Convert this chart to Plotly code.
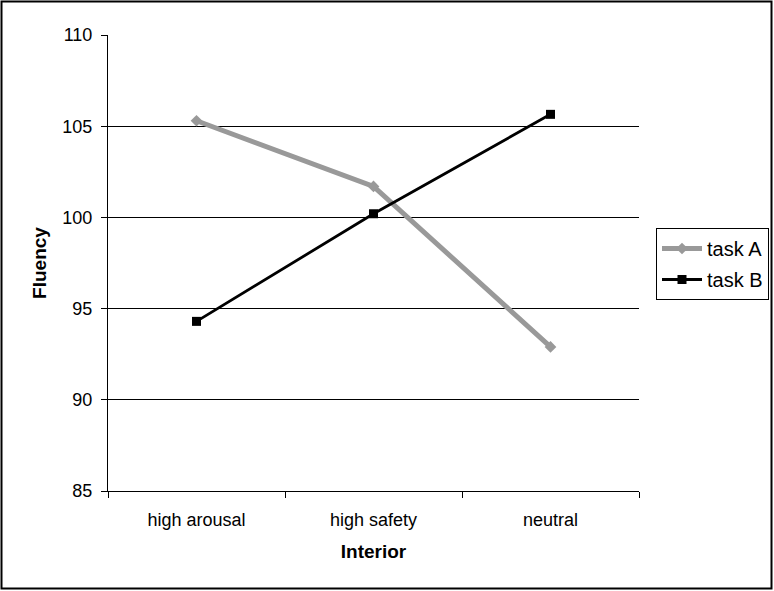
import plotly.graph_objects as go

categories = ["high arousal", "high safety", "neutral"]
task_a = [105.3, 101.7, 92.9]
task_b = [94.3, 100.2, 105.65]
y_ticks = [85, 90, 95, 100, 105, 110]

L, R, T, B = 108, 135, 35, 100
W, H = 774, 591
pw, ph = W - L - R, H - T - B

fig = go.Figure()
fig.add_trace(go.Scatter(
    x=categories, y=task_a, name="task A", mode="lines+markers",
    legendgroup="a",
    line=dict(color="#999999", width=5),
    marker=dict(symbol="diamond", size=9, color="#999999"),
))
fig.add_trace(go.Scatter(
    x=categories, y=task_b, name="task B", mode="lines+markers",
    legendgroup="b",
    line=dict(color="#000000", width=2.8),
    marker=dict(symbol="square", size=9, color="#000000"),
))

def px_x(p):
    return (p - L) / pw

def px_y(p):
    return (H - B - p) / ph

fig.update_layout(
    width=W, height=H,
    margin=dict(l=L, r=R, t=T, b=B, pad=0, autoexpand=False),
    paper_bgcolor="white", plot_bgcolor="white",
    font=dict(family="Liberation Sans, Arial, sans-serif", size=18, color="black"),
    xaxis=dict(
        type="category", tickson="boundaries", ticks="outside", ticklen=6,
        tickcolor="black", showline=True, linecolor="black", linewidth=1,
        showgrid=False, range=[-0.5, 2.5], ticklabelstandoff=12,
        title=dict(text="<b>Interior</b>", font=dict(size=19), standoff=16),
        tickfont=dict(size=18), automargin=False,
    ),
    yaxis=dict(
        range=[85, 110], tickvals=y_ticks, ticks="outside", ticklen=6,
        tickcolor="black", showline=True, linecolor="black", linewidth=1,
        showgrid=True, gridcolor="black", gridwidth=1, zeroline=False,
        ticklabelstandoff=5,
        title=dict(text="<b>Fluency</b>", font=dict(size=19), standoff=10),
        tickfont=dict(size=18), automargin=False,
    ),
    legend=dict(
        x=px_x(656), y=px_y(228), xanchor="left", yanchor="top",
        bordercolor="black", borderwidth=1, bgcolor="white",
        font=dict(size=20), tracegroupgap=2, itemwidth=40,
        traceorder="grouped",
    ),
    showlegend=True,
    shapes=[dict(
        type="rect", xref="paper", yref="paper",
        x0=px_x(1.5), x1=px_x(771.5), y0=px_y(588.5), y1=px_y(1.5),
        line=dict(color="black", width=2), fillcolor="rgba(0,0,0,0)",
        layer="above",
    )],
)

fig.write_html("out.html")
